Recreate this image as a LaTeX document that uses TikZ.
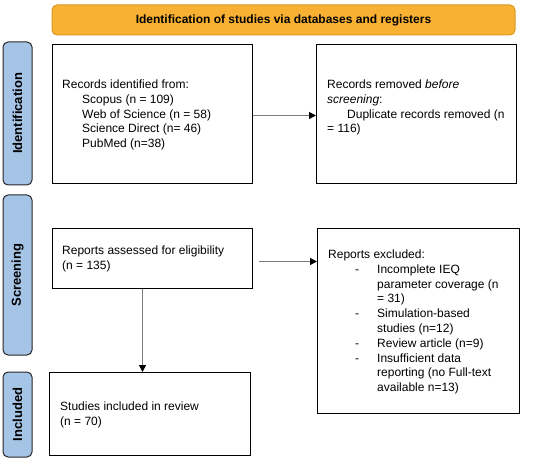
\documentclass[tikz,border=0pt]{standalone}
\usepackage{fontspec}
\setmainfont{Liberation Sans}
\usetikzlibrary{arrows.meta}
\definecolor{orangefill}{HTML}{F8B133}
\definecolor{orangeline}{HTML}{D9981F}
\definecolor{bluefill}{HTML}{A6C4E6}
\definecolor{arrowgray}{HTML}{7A7A7A}
\newcommand{\ind}{\hspace*{20pt}}
\newcommand{\itm}{\hspace*{27pt}\makebox[22pt][l]{-}}
\newcommand{\itc}{\hspace*{49pt}}
\begin{document}
\begin{tikzpicture}[x=1pt,y=-1pt,
  every node/.style={font=\fontsize{12}{14.8}\selectfont},
  box/.style={draw=black, line width=1pt, anchor=north west, inner sep=0pt},
  txt/.style={anchor=west, align=left, inner sep=0pt},
  side/.style={draw=black!85, line width=1pt, fill=bluefill, rounded corners=5pt, rotate=90,
     minimum height=29pt, inner sep=0pt, font=\fontsize{13}{15}\selectfont\bfseries},
  arr/.style={draw=arrowgray, line width=1.2pt, -{Triangle[color=black,length=7pt,width=7pt]}}
]
\useasboundingbox (0,0) rectangle (550,460);
\node[draw=orangeline, line width=1pt, fill=orangefill, rounded corners=5pt,
  minimum width=463pt, minimum height=30pt, inner sep=0pt,
  font=\fontsize{12}{14}\selectfont\bfseries] (title) at (283.5,20)
  {Identification of studies via databases and registers};

\node[side, minimum width=143pt] (sid) at (17.5,113.5) {Identification};
\node[side, minimum width=160pt] (ssc) at (17.5,275) {Screening};
\node[side, minimum width=85pt] (sin) at (17.5,414.5) {Included};

\node[box, minimum width=200pt, minimum height=139pt] (b1) at (52,44) {};
\node[box, minimum width=200pt, minimum height=139pt] (b2) at (316,44) {};
\node[box, minimum width=200pt, minimum height=60pt] (b3) at (52,228) {};
\node[box, minimum width=202pt, minimum height=185pt] (b4) at (317,228) {};
\node[box, minimum width=201pt, minimum height=83pt] (b5) at (49,372) {};

\node[txt] (t1) at (62,115)
 {Records identified from:\\
  \ind Scopus (n = 109)\\
  \ind Web of Science (n = 58)\\
  \ind Science Direct (n= 46)\\
  \ind PubMed (n=38)};
\node[txt] (t2) at (327,107.5)
 {Records removed \emph{before}\\
  \emph{screening}:\\
  \ind Duplicate records removed (n\\
  = 116)};
\node[txt] (t3) at (62,259)
 {Reports assessed for eligibility\\
  (n = 135)};
\node[txt] (t4) at (328,322)
 {Reports excluded:\\
  \itm Incomplete IEQ\\
  \itc parameter coverage (n\\
  \itc = 31)\\
  \itm Simulation-based\\
  \itc studies (n=12)\\
  \itm Review article (n=9)\\
  \itm Insufficient data\\
  \itc reporting (no Full-text\\
  \itc available n=13)};
\node[txt] (t5) at (60,415)
 {Studies included in review\\
  (n = 70)};

\draw[arr] ([yshift=-1.5pt]b1.east) -- ([yshift=-1.5pt]b2.west);
\coordinate (a2) at ([xshift=6pt,yshift=-3pt]b3.east);
\draw[arr] (a2) -- (a2 -| b4.west);
\coordinate (a3) at ([xshift=-10pt]b3.south);
\draw[arr] (a3) -- (a3 |- b5.north);
\end{tikzpicture}
\end{document}
